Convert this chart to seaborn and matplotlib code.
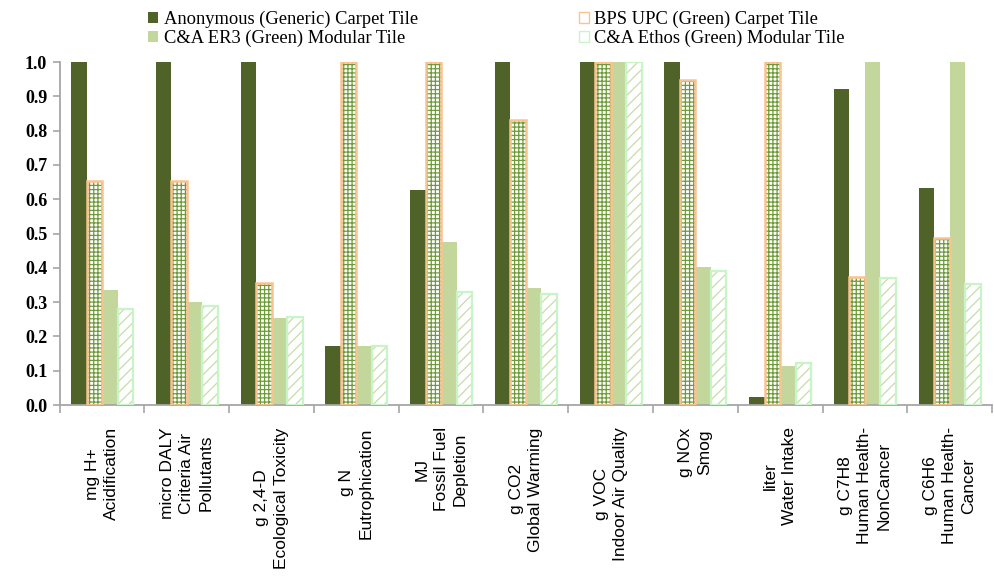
import numpy as np
import pandas as pd
import matplotlib
matplotlib.use("Agg")
import matplotlib.pyplot as plt
import seaborn as sns
from matplotlib.patches import Patch, Rectangle

categories = [
    "mg H+\nAcidification",
    "micro DALY\nCriteria Air\nPollutants",
    "g 2,4-D\nEcological Toxicity",
    "g N\nEutrophication",
    "MJ\nFossil Fuel\nDepletion",
    "g CO2\nGlobal Warming",
    "g VOC\nIndoor Air Quality",
    "g NOx\nSmog",
    "liter\nWater Intake",
    "g C7H8\nHuman Health-\nNonCancer",
    "g C6H6\nHuman Health-\nCancer",
]
series_names = [
    "Anonymous (Generic) Carpet Tile",
    "BPS UPC (Green) Carpet Tile",
    "C&A ER3 (Green) Modular Tile",
    "C&A Ethos (Green) Modular Tile",
]
anonymous = [1.0, 1.0, 1.0, 0.172, 0.627, 1.0, 1.0, 1.0, 0.024, 0.921, 0.633]
bps = [0.653, 0.653, 0.355, 1.0, 1.0, 0.83, 1.0, 0.947, 1.0, 0.373, 0.487]
er3 = [0.335, 0.30, 0.253, 0.172, 0.475, 0.341, 1.0, 0.402, 0.114, 1.0, 1.0]
ethos = [0.28, 0.29, 0.257, 0.172, 0.33, 0.323, 1.0, 0.39, 0.122, 0.37, 0.353]
yticks = [0.0, 0.1, 0.2, 0.3, 0.4, 0.5, 0.6, 0.7, 0.8, 0.9, 1.0]

values = [anonymous, bps, er3, ethos]
df = pd.DataFrame({
    "category": [c for _ in series_names for c in categories],
    "series": [s for s in series_names for _ in categories],
    "value": [v for vals in values for v in vals],
})

DARK = "#4F6228"
LIGHT = "#C3D69B"
GRID_GREEN = "#6E9B3A"
ORANGE = "#F9C38E"
ETHOS_HATCH = "#C8DCA8"
ETHOS_EDGE = "#C8F5C8"
AXCOL = "#A6A6A6"

plt.rcParams["hatch.linewidth"] = 0.9

fig = plt.figure(figsize=(9.95, 5.77), dpi=100)
ax = fig.add_axes([0.060, 0.298, 0.937, 0.5945])

sns.barplot(data=df, x="category", y="value", hue="series", order=categories,
            hue_order=series_names, palette=[DARK, "white", LIGHT, "white"],
            width=0.73, saturation=1, legend=False, ax=ax, errorbar=None)

conts = ax.containers
for p in conts[0]:
    p.set_edgecolor("none")
for p in conts[2]:
    p.set_edgecolor("none")
for p in conts[1]:
    p.set_facecolor("white")
    p.set_hatch("++++")
    p.set_edgecolor(GRID_GREEN)
    p.set_linewidth(0)
    ax.add_patch(Rectangle(p.get_xy(), p.get_width(), p.get_height(),
                           fill=False, ec=ORANGE, lw=1.8, zorder=3))
for p in conts[3]:
    p.set_facecolor("white")
    p.set_hatch("///")
    p.set_edgecolor(ETHOS_HATCH)
    p.set_linewidth(0)
    ax.add_patch(Rectangle(p.get_xy(), p.get_width(), p.get_height(),
                           fill=False, ec=ETHOS_EDGE, lw=1.6, zorder=3))

ax.set_xlim(-0.5, len(categories) - 0.5)
ax.set_ylim(0, 1.0)
ax.set_yticks(yticks)
ax.set_yticklabels([f"{t:.1f}" for t in yticks], fontfamily="Liberation Serif",
                   fontsize=13, fontweight="bold")
ax.set_xlabel("")
ax.set_ylabel("")
ax.set_xticks(range(len(categories)))
ax.set_xticklabels(categories, rotation=90, ha="center", va="top",
                   multialignment="center", fontfamily="Liberation Sans",
                   fontsize=12.5, linespacing=1.35)
ax.set_xticks(np.arange(len(categories) + 1) - 0.5, minor=True)
ax.tick_params(axis="x", which="major", length=0, pad=16)
ax.tick_params(axis="x", which="minor", length=6, color=AXCOL, width=1.2)
ax.tick_params(axis="y", length=5, color=AXCOL, width=1.2, pad=4)
for s in ["top", "right"]:
    ax.spines[s].set_visible(False)
for s in ["left", "bottom"]:
    ax.spines[s].set_color(AXCOL)
    ax.spines[s].set_linewidth(1.3)
ax.grid(False)
ax.set_facecolor("white")

handles = [
    Patch(facecolor=DARK, edgecolor="none"),
    Patch(facecolor=LIGHT, edgecolor="none"),
    Patch(facecolor="white", edgecolor=ORANGE, hatch="+"),
    Patch(facecolor="white", edgecolor=ETHOS_EDGE, hatch="/"),
]
labels = [series_names[0], series_names[2], series_names[1], series_names[3]]
fig.legend(handles, labels, loc="upper left", bbox_to_anchor=(0.145, 0.988),
           ncol=2, frameon=False, prop={"family": "Liberation Serif", "size": 13.3},
           handlelength=0.55, handleheight=0.55, handletextpad=0.3,
           columnspacing=8.7, labelspacing=0.08, borderaxespad=0, borderpad=0.2)

fig.savefig("out.png", dpi=100)
